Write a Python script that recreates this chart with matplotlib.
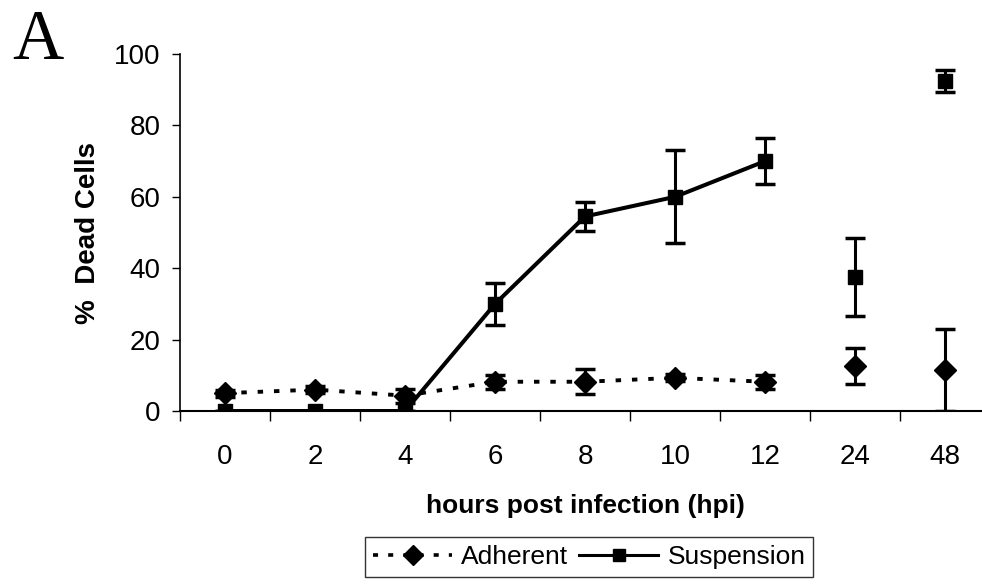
import numpy as np
import matplotlib
matplotlib.use("Agg")
import matplotlib.pyplot as plt

plt.rcParams['font.family'] = ['Liberation Sans', 'DejaVu Sans']

# data
hpi_labels = ['0', '2', '4', '6', '8', '10', '12', '24', '48']
adherent = [5, 6, 4.3, 8.2, 8.2, 9.3, 8.2, 12.7, 11.5]
adherent_err = [1, 1, 2, 2, 3.5, 1, 2, 5, 11.5]
suspension = [0, 0, 0, 30, 54.5, 60, 70, 37.5, 92.5]
suspension_err = [0, 0, 0, 6, 4, 13, 6.5, 11, 3]
n_linked = 7  # points up to 12 hpi are joined by lines

x = np.arange(len(hpi_labels))

fig = plt.figure(figsize=(9.82, 5.86), dpi=100)
ax = fig.add_axes([0.1833, 0.2986, 0.8167, 0.6092])

# error bars
ax.errorbar(x, adherent, yerr=adherent_err, fmt='none', ecolor='black',
            elinewidth=2.2, capsize=7, capthick=2.5, zorder=3)
ax.errorbar(x, suspension, yerr=suspension_err, fmt='none', ecolor='black',
            elinewidth=2.2, capsize=7, capthick=2.5, zorder=3)

# connecting lines (0-12 hpi)
ax.plot(x[:n_linked], adherent[:n_linked], color='black', lw=2.8,
        linestyle=(0, (1.4, 2.8)), zorder=2)
ax.plot(x[:n_linked], suspension[:n_linked], color='black', lw=2.9,
        linestyle='-', zorder=2)

# markers
ax.plot(x, adherent, 'D', color='black', ms=11, zorder=4)
ax.plot(x, suspension, 's', color='black', ms=10, zorder=4)

# legend proxies
h1, = ax.plot([], [], color='black', lw=2.6, linestyle=(0, (1.4, 2.8)),
              marker='D', ms=10)
h2, = ax.plot([], [], color='black', lw=2.2, linestyle='-',
              marker='s', ms=9)

ax.set_xlim(-0.5, 8.41)
ax.set_ylim(0, 100)
ax.set_yticks(np.arange(0, 101, 20))
ax.tick_params(axis='y', direction='out', length=6, width=1, pad=8,
               labelsize=20)

# ticks between categories, labels at centres
ax.set_xticks(np.arange(-0.5, 8.5, 1.0))
ax.set_xticklabels([])
ax.tick_params(axis='x', which='major', direction='out', length=7, width=1)
ax.set_xticks(x, minor=True)
ax.set_xticklabels(hpi_labels, minor=True)
ax.tick_params(axis='x', which='minor', length=0, pad=24, labelsize=20)

for side in ['top', 'right']:
    ax.spines[side].set_visible(False)
ax.spines['left'].set_linewidth(1.2)
ax.spines['bottom'].set_linewidth(1.5)

ax.set_ylabel('%  Dead Cells', fontsize=20, fontweight='bold')
ax.yaxis.set_label_coords(-0.099, 0.5)
ax.set_xlabel('hours post infection (hpi)', fontsize=19, fontweight='bold')
ax.xaxis.set_label_coords(0.505, -0.232)

leg = fig.legend([h1, h2], ['Adherent', 'Suspension'], ncol=2,
                 loc='upper left', bbox_to_anchor=(365 / 982, 1 - 537 / 586),
                 fontsize=19, frameon=True, fancybox=False, edgecolor='black',
                 handlelength=3.0, handletextpad=0.35, columnspacing=0.4,
                 borderpad=0.3, borderaxespad=0)
leg.get_frame().set_linewidth(1.0)

fig.text(12 / 982, 1 - 59 / 586, 'A', family='Liberation Serif',
         fontsize=51, ha='left', va='baseline')

fig.savefig('out.png', dpi=100)
